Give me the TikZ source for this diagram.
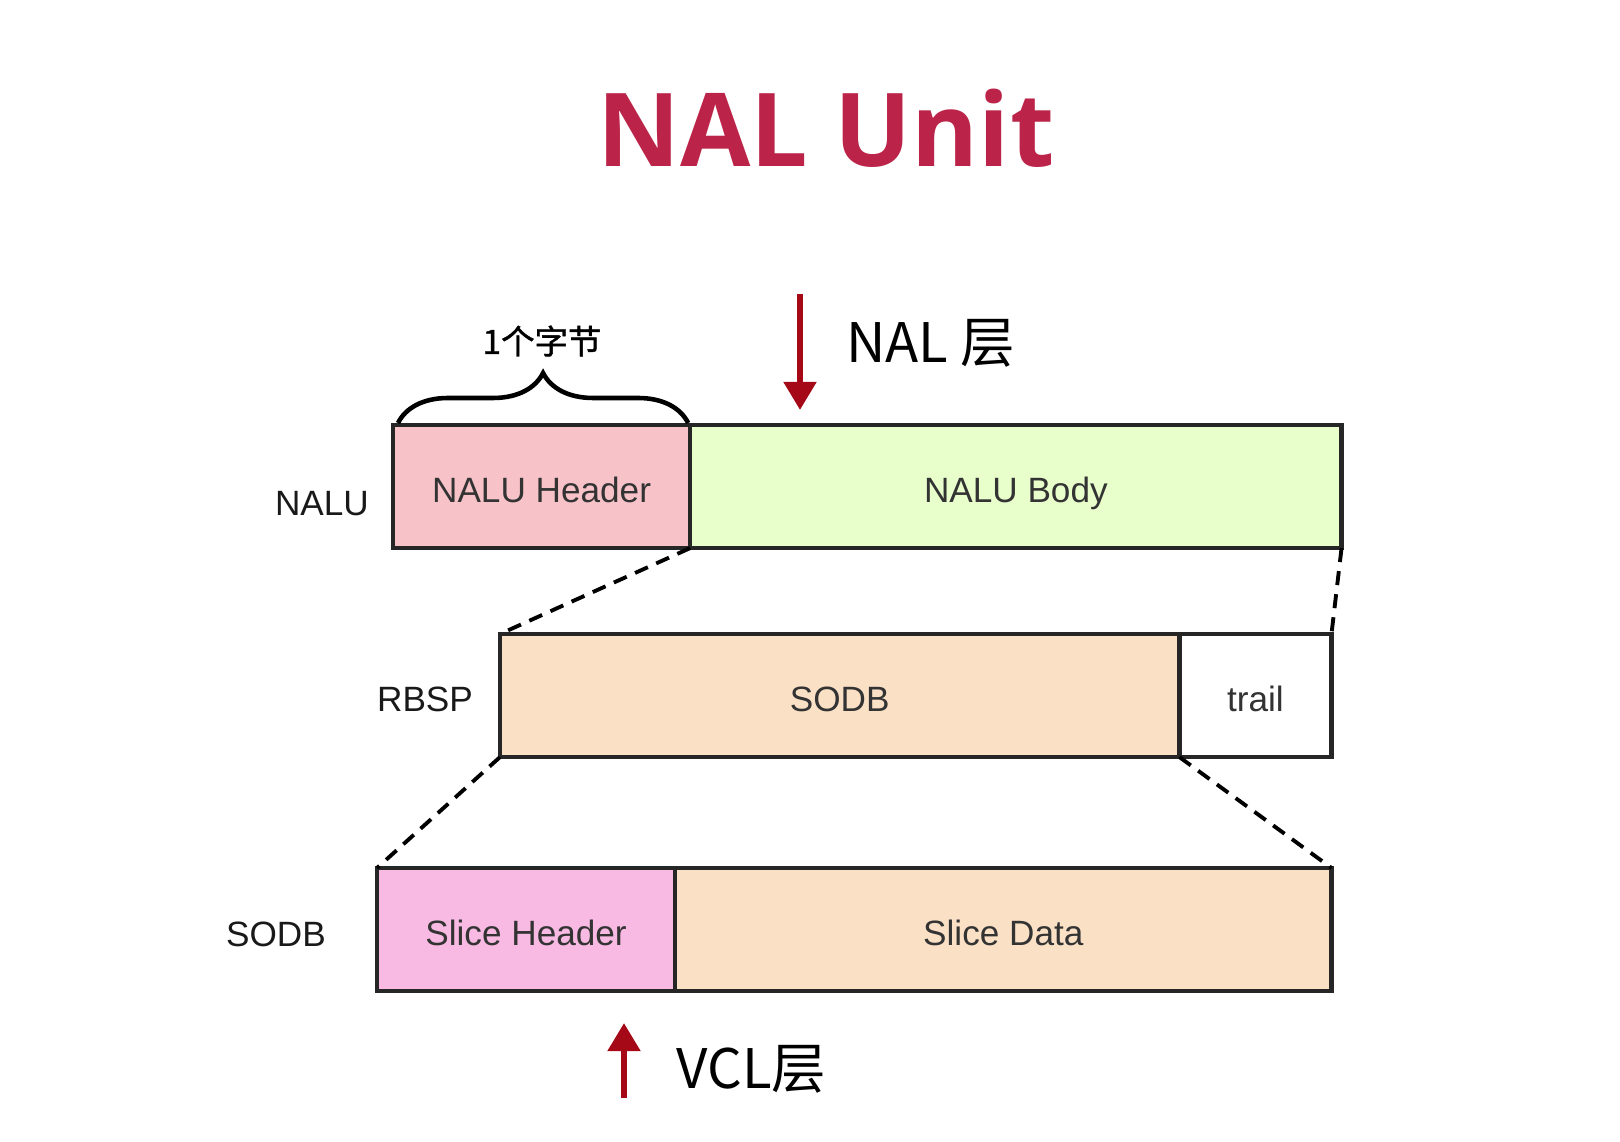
\documentclass[tikz,border=0pt]{standalone}
\usepackage{fontspec}
\setmainfont{Liberation Sans}
\newfontfamily\cjk{Noto Sans CJK SC}
\newfontfamily\cjkbold{Noto Sans CJK SC}[FakeBold=1.2]
\newfontfamily\titlefont{Open Sans}
\usetikzlibrary{positioning, arrows.meta, decorations.pathreplacing}
\definecolor{TitleRed}{RGB}{187,36,72}
\definecolor{ArrowRed}{RGB}{165,8,22}
\definecolor{HdrPink}{RGB}{248,195,200}
\definecolor{BodyGreen}{RGB}{232,255,204}
\definecolor{Peach}{RGB}{250,225,198}
\definecolor{SlicePink}{RGB}{248,186,226}
\tikzset{
  cell/.style={draw=black!85, line width=1.3pt, anchor=north west, minimum height=1.23cm,
    inner sep=0pt, outer sep=0pt, text height=10pt, text depth=1.2pt,
    font=\fontsize{10}{12}\selectfont, text=black!80},
  rowlab/.style={font=\fontsize{10}{12}\selectfont, text=black!90},
  zoomline/.style={line width=1.1pt, dash pattern=on 4pt off 2.6pt},
  layerarr/.style={-{Triangle[width=9pt,length=8pt]}, line width=1.8pt, ArrowRed},
  layerlab/.style={font=\cjk\fontsize{15.5}{18}\selectfont, anchor=west},
}

\begin{document}
\begin{tikzpicture}[x=0.01cm, y=-0.01cm]
  \useasboundingbox (0,0) rectangle (1620,1142);
  \node[font=\titlefont\bfseries\fontsize{29}{35}\selectfont, text=TitleRed] (title) at (826,128) {NAL Unit};
  % NALU row
  \node[cell, fill=HdrPink, minimum width=2.97cm] (nhdr) at (393,425) {NALU Header};
  \node[cell, fill=BodyGreen, minimum width=6.51cm] (nbody) at (nhdr.north east) {NALU Body};
  \node[rowlab] (lnalu) at (322,504) {NALU};
  \draw[line width=1.3pt, decorate, decoration={brace, amplitude=0.5cm}]
    ([xshift=0.05cm, yshift=0.02cm]nhdr.north west) -- ([xshift=-0.02cm, yshift=0.02cm]nhdr.north east);
  \node[font=\cjkbold\fontsize{9.5}{11}\selectfont] (bytes) at (542,341) {1个字节};
  % NAL layer arrow
  \coordinate (naltop) at (800,294);
  \coordinate (naltip) at (800,410);
  \draw[layerarr] (naltop) -- (naltip);
  \node[layerlab] (nal) at (834,343) {NAL 层};
  % RBSP row
  \node[cell, fill=Peach, minimum width=6.79cm] (sodb) at (500,634) {SODB};
  \node[cell, fill=white, minimum width=1.52cm] (trail) at (sodb.north east) {trail};
  \node[rowlab] (lrbsp) at (425,699) {RBSP};
  % SODB row
  \node[cell, fill=SlicePink, minimum width=2.98cm] (shdr) at (377,868) {Slice Header};
  \node[cell, fill=Peach, minimum width=6.56cm] (sdata) at (shdr.north east) {Slice Data};
  \node[rowlab] (lsodb) at (276,934) {SODB};
  % zoom lines
  \draw[zoomline] (nbody.south west) -- (sodb.north west);
  \draw[zoomline] (nbody.south east) -- (trail.north east);
  \draw[zoomline] (sodb.south west) -- (shdr.north west);
  \draw[zoomline] (sodb.south east) -- (sdata.north east);
  % VCL layer arrow
  \coordinate (vclbot) at (624,1098);
  \coordinate (vcltip) at (624,1023);
  \draw[layerarr] (vclbot) -- (vcltip);
  \node[layerlab] (vcl) at (664,1069) {VCL层};
\end{tikzpicture}
\end{document}
